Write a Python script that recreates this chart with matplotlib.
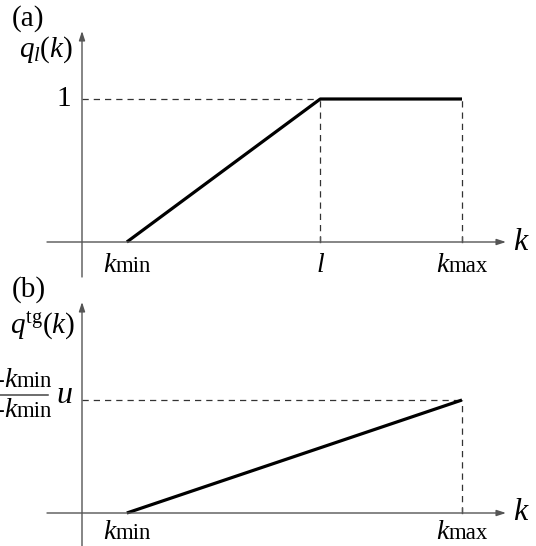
import numpy as np
import matplotlib
matplotlib.use("Agg")
import matplotlib.pyplot as plt
from matplotlib.transforms import offset_copy

# =========================================================
# DATA (schematic units, origin of k axis = 0)
# =========================================================
k_min = 0.118
l_val = 0.627
k_max = 1.0

# panel (a): q_l(k) ramps from 0 at k_min to 1 at l, flat to k_max
qa_k = [k_min, l_val, k_max]
qa_q = [0.0, 1.0, 1.0]

# panel (b): q_tg(k) ramps from 0 at k_min to u-level at k_max
qb_k = [k_min, k_max]
qb_q = [0.0, 1.0]

# tick labels as (italic part, upright part)
tick_labels_a = [("k", "min"), ("l", ""), ("k", "max")]
tick_labels_b = [("k", "min"), ("k", "max")]

# =========================================================
# STYLE
# =========================================================
plt.rcParams["mathtext.fontset"] = "custom"
plt.rcParams["mathtext.rm"] = "Liberation Serif"
plt.rcParams["mathtext.it"] = "Liberation Serif:italic"
plt.rcParams["font.family"] = ["Liberation Serif", "DejaVu Serif"]

W, H = 536, 546
fig = plt.figure(figsize=(W / 100, H / 100), dpi=100)
renderer = fig.canvas.get_renderer()

AX_COL = "#555555"
DASH_COL = "#333333"
FS = 21
FS_IT = 20
FS_UP = 16.5
ARROW = dict(arrowstyle="-|>,head_length=0.55,head_width=0.18",
             color=AX_COL, lw=1.0, shrinkA=0, shrinkB=0)

# pixel geometry: origin x and px per x unit
X0, XS = 82.0, 380.0


def make_panel(y_axis_px, y_scale):
    ax = fig.add_axes([0, 0, 1, 1])
    ax.patch.set_alpha(0)
    ax.set_xlim(-X0 / XS, (W - X0) / XS)
    ax.set_ylim((y_axis_px - H) / y_scale, y_axis_px / y_scale)
    ax.axis("off")
    return ax


def px_x(px):
    return (px - X0) / XS


def compound(ax, x, y, parts, ha="center"):
    """Draw a label made of pieces (text, style, size) side by side on one baseline."""
    texts = []
    for s, st, fs in parts:
        if s:
            texts.append(ax.text(x, y, s, style=st, fontsize=fs,
                                 ha="left", va="baseline", clip_on=False))
    widths = [t.get_window_extent(renderer).width for t in texts]
    total = sum(widths)
    off = {"center": -total / 2, "right": -total, "left": 0.0}[ha]
    for t, w in zip(texts, widths):
        t.set_transform(offset_copy(ax.transData, fig=fig, x=off, y=0, units="dots"))
        off += w


def k_label(ax, x, y, it, up, ha="center"):
    compound(ax, x, y, [(it, "italic", FS_IT), (up, "normal", FS_UP)], ha=ha)


# =========================================================
# PANEL (a)
# =========================================================
ya, sa = 242.0, 143.0
ax = make_panel(ya, sa)


def py_a(py):
    return (ya - py) / sa


ax.annotate("", xy=(px_x(506), 0), xytext=(px_x(47), 0), arrowprops=ARROW)
ax.annotate("", xy=(0, py_a(31)), xytext=(0, py_a(277)), arrowprops=ARROW)

# dashed guides
ax.plot([0, l_val], [1, 1], ls=(0, (5, 4)), color=DASH_COL, lw=0.9)
for kx in [l_val, k_max]:
    ax.plot([kx, kx], [0, 1], ls=(0, (5, 4)), color=DASH_COL, lw=0.9)
    ax.plot([kx, kx], [0, 5 / sa], color=AX_COL, lw=1.0)

ax.plot(qa_k, qa_q, color="black", lw=2.3, solid_capstyle="butt")

for kx, (it, up) in zip(qa_k, tick_labels_a):
    k_label(ax, kx, py_a(272), it, up)
ax.text(px_x(513), 0, r"$k$", ha="left", va="center", fontsize=23)
ax.text(px_x(71), 1, "1", ha="right", va="center", fontsize=FS)
ax.text(px_x(73), py_a(50), r"$q_l(k)$", ha="right", va="center", fontsize=FS)
ax.text(px_x(12), py_a(19), "(a)", ha="left", va="center", fontsize=FS)

# =========================================================
# PANEL (b)
# =========================================================
yb, sb = 513.0, 113.0
bx = make_panel(yb, sb)


def py_b(py):
    return (yb - py) / sb


bx.annotate("", xy=(px_x(506), 0), xytext=(px_x(47), 0), arrowprops=ARROW)
bx.annotate("", xy=(0, py_b(302)), xytext=(0, py_b(560)), arrowprops=ARROW)

bx.plot([0, k_max], [1, 1], ls=(0, (5, 4)), color=DASH_COL, lw=0.9)
bx.plot([k_max, k_max], [0, 1], ls=(0, (5, 4)), color=DASH_COL, lw=0.9)
bx.plot([k_max, k_max], [0, 5 / sb], color=AX_COL, lw=1.0)

bx.plot(qb_k, qb_q, color="black", lw=2.3, solid_capstyle="butt")

for kx, (it, up) in zip(qb_k, tick_labels_b):
    k_label(bx, kx, py_b(539), it, up)
bx.text(px_x(513), 0, r"$k$", ha="left", va="center", fontsize=23)

# level label: (l - kmin) / (kmax - kmin) u, cut by the left edge as in the figure
compound(bx, px_x(52), py_b(387),
         [("l", "italic", FS_IT), ("-", "normal", FS_UP),
          ("k", "italic", FS_IT), ("min", "normal", FS_UP)], ha="right")
compound(bx, px_x(52), py_b(417),
         [("k", "italic", FS_IT), ("max", "normal", FS_UP), ("-", "normal", FS_UP),
          ("k", "italic", FS_IT), ("min", "normal", FS_UP)], ha="right")
bx.plot([px_x(-60), px_x(48)], [py_b(395), py_b(395)], color="#444444", lw=1.1,
        clip_on=False)
bx.text(px_x(56), py_b(403), r"$u$", ha="left", va="baseline", fontsize=23)

bx.text(px_x(75), py_b(326), r"$q^{\mathrm{tg}}(k)$", ha="right", va="center",
        fontsize=FS)
bx.text(px_x(12), py_b(290), "(b)", ha="left", va="center", fontsize=FS)

fig.savefig("out.png", dpi=100)
